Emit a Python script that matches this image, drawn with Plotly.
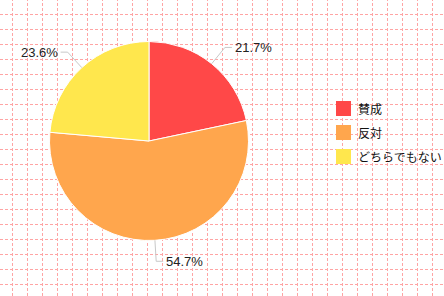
import math
import plotly.graph_objects as go

# ---- data ----
categories = ["賛成", "反対", "どちらでもない"]
values = [21.7, 54.7, 23.6]
colors = ["#FF4848", "#FFA64D", "#FFE74D"]

W, H = 444, 296
CX, CY, R = 149.0, 141.0, 99.5


def px(x):
    return x / W


def py(y):
    return 1 - y / H


fig = go.Figure()
fig.add_trace(go.Pie(
    labels=categories,
    values=values,
    marker=dict(colors=colors, line=dict(color="white", width=1)),
    sort=False,
    direction="clockwise",
    rotation=0,
    textinfo="none",
    hoverinfo="label+percent",
    showlegend=False,
    domain=dict(x=[px(CX - R), px(CX + R)], y=[py(CY + R), py(CY - R)]),
))

shapes = []
# background dashed grid
gx = 12
while gx <= W:
    shapes.append(dict(type="line", xref="paper", yref="paper",
                       x0=px(gx + 0.5), x1=px(gx + 0.5), y0=0, y1=1,
                       line=dict(color="#FFA4A4", width=1, dash="3px,2px"),
                       layer="below"))
    gx += 15
gy = 14
while gy <= H:
    shapes.append(dict(type="line", xref="paper", yref="paper",
                       x0=0, x1=1, y0=py(gy + 0.5), y1=py(gy + 0.5),
                       line=dict(color="#FFA4A4", width=1, dash="3px,2px"),
                       layer="below"))
    gy += 15

annotations = []
# outside labels with connector lines
total = sum(values)
cum = 0.0
for v in values:
    mid = (cum + v / 2) / total * 2 * math.pi
    cum += v
    s, c = math.sin(mid), math.cos(mid)
    x1, y1 = CX + R * s, CY - R * c
    x2, y2 = CX + (R + 21) * s, CY - (R + 21) * c
    side = 1 if s >= 0 else -1
    x3 = x2 + side * 7
    shapes.append(dict(type="path", xref="paper", yref="paper",
                       path=f"M{px(x1)},{py(y1)} L{px(x2)},{py(y2)} L{px(x3)},{py(y2)}",
                       line=dict(color="#C8C8C8", width=1), layer="above"))
    annotations.append(dict(xref="paper", yref="paper", x=px(x3 + side * 1), y=py(y2),
                            text=f"{v / total * 100:.1f}%", showarrow=False,
                            xanchor="left" if side > 0 else "right", yanchor="middle",
                            font=dict(family="Liberation Sans Narrow, Liberation Sans, Arial",
                                      size=13, color="#222222")))

# legend
for i, (lab, col) in enumerate(zip(categories, colors)):
    yc = 108.5 + 24 * i
    shapes.append(dict(type="rect", xref="paper", yref="paper",
                       x0=px(336), x1=px(351), y0=py(yc - 7.5), y1=py(yc + 7.5),
                       fillcolor=col, line=dict(width=0), layer="above"))
    annotations.append(dict(xref="paper", yref="paper", x=px(356), y=py(yc),
                            text=lab, showarrow=False, xanchor="left", yanchor="middle",
                            font=dict(family="Noto Sans CJK JP", size=12, color="#111111")))

fig.update_layout(
    width=W, height=H,
    margin=dict(l=0, r=0, t=0, b=0),
    paper_bgcolor="white",
    plot_bgcolor="white",
    shapes=shapes,
    annotations=annotations,
)

fig.write_html("out.html")
